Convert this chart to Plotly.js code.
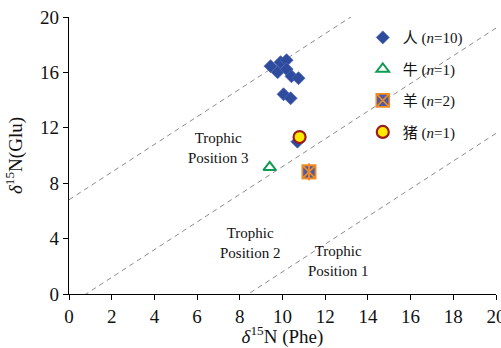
<!DOCTYPE html>
<html><head><meta charset="utf-8">
<script src="https://cdn.plot.ly/plotly-3.0.1.min.js"></script>
<style>html,body{margin:0;padding:0;background:#fff;}#chart{width:501px;height:348px;}</style>
</head><body><div id="chart"></div>
<script>
// Data
const humanPhe = [9.44, 9.91, 10.19, 9.77, 10.19, 10.42, 10.75, 10.05, 10.38, 10.70];
const humanGlu = [16.45, 16.74, 16.88, 16.01, 16.23, 15.72, 15.58, 14.42, 14.13, 11.0];
const cattlePhe = [9.4];
const cattleGlu = [9.15];
const sheepPhe = [11.24, 11.24];
const sheepGlu = [8.82, 8.82];
const pigPhe = [10.8];
const pigGlu = [11.33];
const tpOffsets = [-8.4, -0.8, 6.8];
const tpLabels = ['Trophic<br>Position 1', 'Trophic<br>Position 2', 'Trophic<br>Position 3'];
const tpLabelX = [12.6, 8.47, 6.97];
const tpLabelY = [2.35, 3.65, 10.56];
const legendNames = ['人 (<i>n</i>=10)', '牛 (<i>n</i>=1)', '羊 (<i>n</i>=2)', '猪 (<i>n</i>=1)'];
const xRange = [0, 20];

const serif = 'Liberation Serif, Times New Roman, Noto Sans CJK SC, serif';

const traces = [];
tpOffsets.forEach(b => {
  traces.push({x: xRange, y: xRange.map(v => v + b), mode: 'lines', showlegend: false, hoverinfo: 'skip',
    line: {color: '#8c8c8c', width: 1, dash: '5px,4px'}});
});
traces.push({x: humanPhe, y: humanGlu, mode: 'markers', name: legendNames[0], legendgroup: 'a',
  marker: {symbol: 'diamond', size: 10, color: '#2E4B9E', line: {color: '#4A64B0', width: 0.8}}});
traces.push({x: cattlePhe, y: cattleGlu, mode: 'markers', name: legendNames[1], legendgroup: 'b',
  marker: {symbol: 'triangle-up-open', size: 11, color: '#119A55', line: {color: '#119A55', width: 2}}});
traces.push({x: sheepPhe, y: sheepGlu, mode: 'markers', name: legendNames[2], legendgroup: 'c',
  marker: {symbol: 'square-x', size: 13, color: '#4A5BA8', line: {color: '#F08A24', width: 1.6}}});
traces.push({x: sheepPhe, y: sheepGlu, mode: 'markers', showlegend: false, legendgroup: 'c', hoverinfo: 'skip',
  marker: {symbol: 'line-ns-open', size: 12, color: '#F08A24', line: {color: '#F08A24', width: 1.6}}});
traces.push({x: pigPhe, y: pigGlu, mode: 'markers', name: legendNames[3], legendgroup: 'd',
  marker: {symbol: 'circle', size: 12, color: '#FFEA00', line: {color: '#9A1B1E', width: 2.2}}});

const annotations = tpLabels.map((t, i) => ({x: tpLabelX[i], y: tpLabelY[i], text: t, showarrow: false,
  xref: 'x', yref: 'y', font: {family: serif, size: 15, color: '#111'}, align: 'center'}));

const layout = {
  width: 501, height: 348,
  margin: {l: 69, r: 5, t: 17, b: 54},
  paper_bgcolor: '#fff', plot_bgcolor: '#fff',
  font: {family: serif, color: '#111'},
  showlegend: true,
  legend: {x: 0.688, y: 0.985, xanchor: 'left', yanchor: 'top', bgcolor: 'rgba(0,0,0,0)',
    font: {family: serif, size: 15, color: '#111'}, tracegroupgap: 9},
  xaxis: {range: xRange, dtick: 2, tick0: 0, showgrid: false, zeroline: false, showline: true,
    linecolor: '#000', linewidth: 1.2, ticks: 'outside', ticklen: 5, tickcolor: '#000',
    ticklabeloverflow: 'allow', automargin: false,
    tickfont: {family: serif, size: 19, color: '#111'},
    title: {text: '<i>δ</i><sup>15</sup>N (Phe)', font: {family: serif, size: 19, color: '#111'}, standoff: 4}},
  yaxis: {range: [0, 20], dtick: 4, tick0: 0, showgrid: false, zeroline: false, showline: true,
    linecolor: '#000', linewidth: 1.2, ticks: 'outside', ticklen: 5, tickcolor: '#000',
    automargin: false,
    tickfont: {family: serif, size: 19, color: '#111'},
    title: {text: '<i>δ</i><sup>15</sup>N(Glu)', font: {family: serif, size: 19, color: '#111'}, standoff: 12}},
  annotations: annotations
};
Plotly.newPlot('chart', traces, layout, {displayModeBar: false, staticPlot: true});
</script></body></html>
